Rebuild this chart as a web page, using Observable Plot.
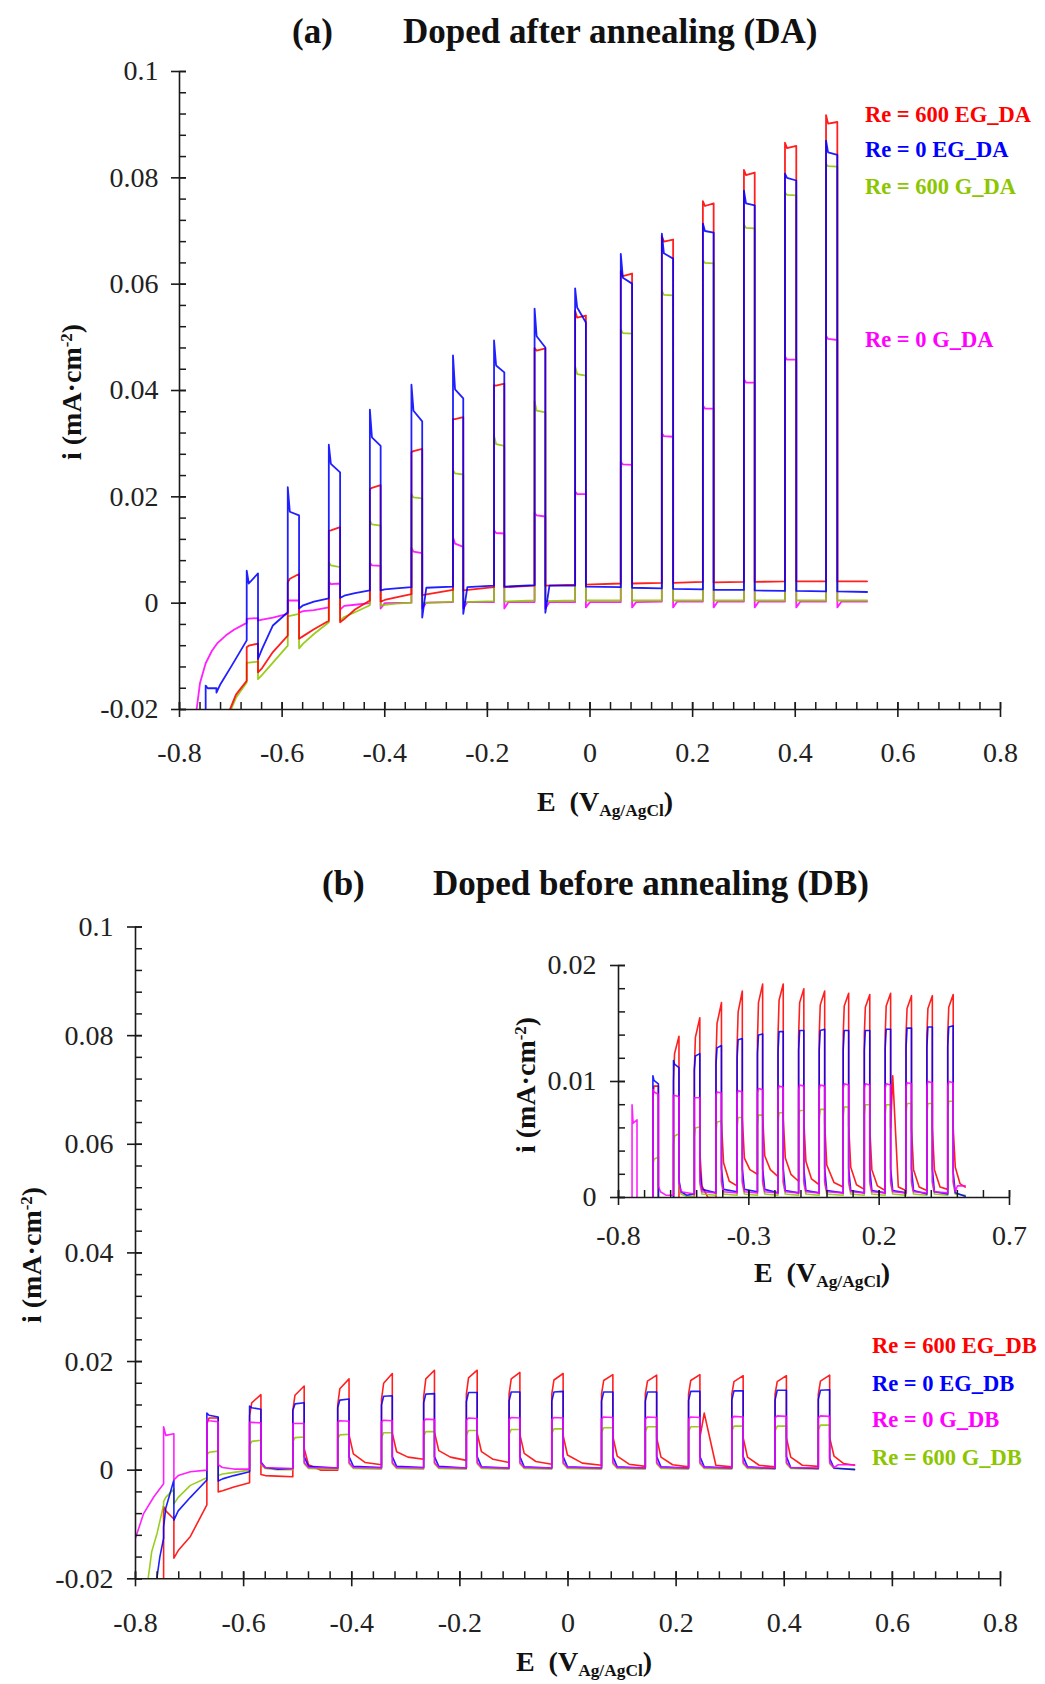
<!DOCTYPE html>
<html><head><meta charset="utf-8">
<script src="https://cdn.jsdelivr.net/npm/d3@7"></script>
<script src="https://cdn.jsdelivr.net/npm/@observablehq/plot@0.6"></script>
<style>
body{margin:0;background:#fff;}
#root{position:relative;width:1045px;height:1684px;overflow:hidden;font-family:"Liberation Serif","Times New Roman",serif;color:#111;}
.t{position:absolute;white-space:nowrap;font-weight:bold;line-height:1;}
.c{transform:translate(-50%,-50%);}
.r{transform:translate(-50%,-50%) rotate(-90deg);}
sup{font-size:0.6em;vertical-align:0.55em;line-height:0;}
sub{font-size:0.62em;vertical-align:-0.3em;line-height:0;}
svg{position:absolute;overflow:visible;}
</style></head><body><div id="root"></div>
<script>
// ---------------- Panel (a): Doped after annealing ----------------
const onA  = [-0.749,-0.669,-0.589,-0.509,-0.429,-0.348,-0.267,-0.187,-0.108,-0.029,0.060,0.140,0.220,0.300,0.380,0.460];
const offA = [-0.728,-0.647,-0.567,-0.487,-0.408,-0.327,-0.247,-0.167,-0.087,-0.008,0.082,0.162,0.241,0.321,0.402,0.482];

// Re = 600 EG_DA (red)
const redA_lead   = [[-0.706,-0.021],[-0.690,-0.0172]];
const redA_dark   = [null,-0.0146,-0.0061,-0.0033,0.0005,0.0017,0.0025,0.0030,0.0033,0.0035,0.0037,0.0038,0.0040,0.0040,0.0041,0.0041];
const redA_jump   = [null,-0.0083,0.0039,0.0136,0.0214,0.0284,0.0346,0.0410,0.0480,0.0550,0.0625,0.0690,0.0756,0.0815,0.0866,0.0918];
const redA_settle = [null,-0.0080,0.0046,0.0137,0.0217,0.0286,0.0346,0.0409,0.0475,0.0537,0.0615,0.0680,0.0747,0.0805,0.0856,0.0902];
const redA_end    = [null,-0.0076,0.0055,0.0143,0.0222,0.0290,0.0350,0.0413,0.0479,0.0541,0.0620,0.0684,0.0752,0.0810,0.0860,0.0905];
const redA_drop   = [null,-0.0130,-0.0067,-0.0036,0.0003,0.0015,0.0024,0.0030,0.0033,0.0035,0.0037,0.0038,0.0039,0.0040,0.0041,0.0041];
const redA_tail   = [null,-0.0122,-0.0062,-0.0030,0.0006];
const redA_mid    = [null,-0.0092,-0.0049,-0.0012,0.0011];
const redA_trail  = [[0.540,0.0041]];

// Re = 0 EG_DA (blue)
const blueA_lead   = [[-0.750,-0.021]];
const blueA_dark   = [-0.0205,-0.0070,-0.0017,0.0009,0.0024,0.0030,0.0031,0.0033,0.0034,0.0033,0.0030,0.0028,0.0026,0.0025,0.0023,0.0022];
const blueA_jump   = [-0.0155,0.0061,0.0218,0.0298,0.0364,0.0411,0.0466,0.0494,0.0554,0.0592,0.0657,0.0695,0.0714,0.0776,0.0808,0.0870];
const blueA_settle = [-0.0160,0.0037,0.0172,0.0262,0.0312,0.0362,0.0402,0.0447,0.0502,0.0556,0.0612,0.0658,0.0700,0.0752,0.0800,0.0848];
const blueA_end    = [-0.0160,0.0056,0.0165,0.0246,0.0296,0.0342,0.0385,0.0434,0.0481,0.0528,0.0601,0.0648,0.0697,0.0748,0.0795,0.0843];
const blueA_drop   = [-0.0168,-0.0105,-0.0010,0.0010,0.0024,-0.0027,-0.0020,0.0031,-0.0018,0.0031,0.0029,0.0027,0.0025,0.0024,0.0023,0.0022];
const blueA_tail   = [-0.0152,-0.0086,-0.0004,0.0014,0.0026,0.0029,0.0030,null,0.0033];
const blueA_mid    = [-0.0118,-0.0042,0.0003,0.0019,0.0028];
const blueA_trail  = [[0.540,0.0021]];

// Re = 600 G_DA (green)
const greenA_lead   = [[-0.704,-0.021],[-0.690,-0.0178]];
const greenA_dark   = [null,-0.0149,-0.0080,-0.0036,-0.0004,0.0001,0.0003,0.0004,0.0005,0.0005,0.0005,0.0005,0.0005,0.0005,0.0005,0.0005];
const greenA_jump   = [null,-0.0112,-0.0025,0.0077,0.0155,0.0205,0.0250,0.0315,0.0380,0.0445,0.0515,0.0588,0.0645,0.0712,0.0772,0.0826];
const greenA_settle = [null,-0.0112,-0.0024,0.0071,0.0148,0.0199,0.0244,0.0299,0.0362,0.0431,0.0508,0.0580,0.0640,0.0706,0.0768,0.0822];
const greenA_end    = [null,-0.0110,-0.0020,0.0068,0.0146,0.0197,0.0242,0.0296,0.0359,0.0428,0.0507,0.0579,0.0639,0.0705,0.0767,0.0821];
const greenA_drop   = [null,-0.0143,-0.0085,-0.0033,-0.0005,0.0000,0.0002,0.0003,0.0004,0.0005,0.0005,0.0005,0.0005,0.0005,0.0005,0.0005];
const greenA_tail   = [null,-0.0135,-0.0076,-0.0026,-0.0003];
const greenA_mid    = [null,-0.0112,-0.0058,-0.0017,-0.0001];
const greenA_trail  = [[0.540,0.0005]];

// Re = 0 G_DA (magenta)
const magA_lead   = [[-0.768,-0.021],[-0.760,-0.0150],[-0.749,-0.0113],[-0.737,-0.0090],[-0.726,-0.0075],[-0.710,-0.0061],[-0.694,-0.0050]];
const magA_dark   = [null,-0.0037,-0.0020,-0.0008,0.0000,0.0001,0.0002,0.0002,0.0002,0.0002,0.0002,0.0003,0.0003,0.0003,0.0003,0.0003];
const magA_jump   = [null,-0.0030,0.0006,0.0040,0.0076,0.0104,0.0124,0.0137,0.0170,0.0210,0.0266,0.0320,0.0372,0.0421,0.0464,0.0503];
const magA_settle = [null,-0.0029,0.0005,0.0036,0.0071,0.0097,0.0112,0.0132,0.0165,0.0205,0.0261,0.0314,0.0366,0.0415,0.0458,0.0497];
const magA_end    = [null,-0.0028,0.0005,0.0037,0.0070,0.0094,0.0106,0.0131,0.0163,0.0205,0.0260,0.0313,0.0366,0.0415,0.0458,0.0495];
const magA_drop   = [null,-0.0033,-0.0018,-0.0012,-0.0010,-0.0010,-0.0010,-0.0010,-0.0010,-0.0008,-0.0008,-0.0008,-0.0008,-0.0008,-0.0008,-0.0008];
const magA_tail   = [null,-0.0031,-0.0015,-0.0005,0.0000,0.0001,0.0002,0.0002,0.0002,0.0002,0.0002,0.0003,0.0003,0.0003,0.0003,0.0003];
const magA_mid    = [null,-0.0027,-0.0013,-0.0003];
const magA_trail  = [[0.540,0.0003]];

// ---------------- Panel (b): Doped before annealing ----------------
const onB  = [-0.748,-0.668,-0.589,-0.509,-0.426,-0.345,-0.267,-0.188,-0.109,-0.030,0.062,0.143,0.223,0.303,0.383,0.463];
const offB = [-0.729,-0.647,-0.568,-0.488,-0.405,-0.325,-0.247,-0.168,-0.089,-0.009,0.083,0.164,0.244,0.324,0.404,0.484];

// Re = 600 EG_DB (red)
const redB_lead   = [[-0.749,-0.022]];
const redB_dark   = [-0.0215,-0.0064,-0.0023,-0.0012,0.0000,0.0010,0.0020,0.0018,0.0014,0.0011,0.0009,0.0007,0.0006,0.0006,0.0006,0.0007];
const redB_jump   = [-0.0067,0.0085,0.0100,0.0110,0.0120,0.0130,0.0135,0.0140,0.0140,0.0140,0.0140,0.0140,0.0140,0.0140,0.0140,0.0140];
const redB_settle = [-0.0075,0.0096,0.0124,0.0138,0.0150,0.0160,0.0168,0.0170,0.0168,0.0166,0.0165,0.0164,0.0165,0.0163,0.0163,0.0164];
const redB_end    = [-0.0090,0.0096,0.0139,0.0155,0.0168,0.0178,0.0184,0.0184,0.0180,0.0178,0.0176,0.0175,0.0176,0.0174,0.0174,0.0175];
const redB_drop   = [-0.0162,-0.0040,-0.0008,0.0040,0.0065,0.0068,0.0070,0.0068,0.0066,0.0064,0.0062,0.0060,0.0060,0.0060,0.0060,0.0060];
const redB_tail   = [-0.0148,-0.0038,-0.0010,0.0010,0.0030,0.0034,0.0036,0.0034,0.0031,0.0028,0.0026,0.0024,0.0105,0.0024,0.0024,0.0026];
const redB_mid    = [-0.0122,-0.0031,-0.0011,0.0000,0.0014,0.0024,0.0024,0.0020,0.0016,0.0013,0.0011,0.0010,0.0009,0.0009,0.0009];
const redB_trail  = [[0.510,0.0012],[0.530,0.0009]];

// Re = 0 EG_DB (blue)
const blueB_lead   = [[-0.762,-0.021],[-0.755,-0.0160]];
const blueB_dark   = [-0.0125,-0.0018,-0.0003,0.0003,0.0004,0.0005,0.0005,0.0004,0.0004,0.0004,0.0004,0.0004,0.0004,0.0004,0.0003,0.0003];
const blueB_jump   = [-0.0105,0.0105,0.0118,0.0110,0.0115,0.0120,0.0124,0.0126,0.0127,0.0127,0.0127,0.0127,0.0128,0.0129,0.0129,0.0130];
const blueB_settle = [-0.0070,0.0101,0.0115,0.0122,0.0129,0.0136,0.0140,0.0143,0.0144,0.0144,0.0144,0.0144,0.0145,0.0146,0.0147,0.0147];
const blueB_end    = [-0.0018,0.0098,0.0112,0.0124,0.0131,0.0137,0.0141,0.0143,0.0144,0.0145,0.0144,0.0144,0.0145,0.0146,0.0147,0.0148];
const blueB_drop   = [-0.0092,-0.0020,0.0015,0.0025,0.0025,0.0025,0.0025,0.0025,0.0025,0.0025,0.0025,0.0025,0.0025,0.0025,0.0025,0.0022];
const blueB_tail   = [-0.0075,-0.0016,0.0005,0.0007,0.0007,0.0007,0.0007,0.0006,0.0006,0.0006,0.0006,0.0006,0.0006,0.0006,0.0005,0.0004];
const blueB_mid    = [-0.0050,-0.0010,0.0002];
const blueB_trail  = [[0.530,0.0001]];

// Re = 600 G_DB (green)
const greenB_lead   = [[-0.778,-0.021],[-0.770,-0.0150],[-0.760,-0.0116]];
const greenB_dark   = [-0.0064,-0.0014,0.0000,0.0001,0.0002,0.0002,0.0002,0.0002,0.0002,0.0002,0.0002,0.0002,0.0002,0.0002,0.0002,0.0002];
const greenB_jump   = [-0.0058,0.0028,0.0045,0.0052,0.0057,0.0060,0.0062,0.0064,0.0066,0.0067,0.0069,0.0071,0.0071,0.0072,0.0072,0.0074];
const greenB_settle = [-0.0050,0.0033,0.0053,0.0060,0.0065,0.0069,0.0071,0.0073,0.0075,0.0076,0.0078,0.0080,0.0080,0.0081,0.0081,0.0083];
const greenB_end    = [-0.0035,0.0035,0.0055,0.0061,0.0066,0.0069,0.0071,0.0073,0.0075,0.0076,0.0078,0.0080,0.0080,0.0081,0.0081,0.0083];
const greenB_drop   = [-0.0062,-0.0010,0.0010,0.0012,0.0012,0.0012,0.0012,0.0012,0.0012,0.0012,0.0012,0.0012,0.0012,0.0012,0.0012,0.0012];
const greenB_tail   = [-0.0050,-0.0007,0.0003,0.0003,0.0003,0.0003,0.0003,0.0003,0.0003,0.0003,0.0003,0.0003,0.0003,0.0003,0.0003,0.0003];
const greenB_mid    = [-0.0028,-0.0004,0.0001];
const greenB_trail  = [[0.530,0.0002]];

// Re = 0 G_DB (magenta)
const magB_lead   = [[-0.800,-0.0125],[-0.785,-0.0080],[-0.766,-0.0049]];
const magB_dark   = [-0.0025,0.0000,0.0002,0.0003,0.0004,0.0004,0.0004,0.0004,0.0004,0.0004,0.0004,0.0004,0.0004,0.0004,0.0004,0.0004];
const magB_jump   = [0.0080,0.0093,0.0088,0.0086,0.0088,0.0089,0.0090,0.0092,0.0093,0.0093,0.0094,0.0094,0.0094,0.0095,0.0096,0.0096];
const magB_settle = [0.0064,0.0091,0.0088,0.0086,0.0091,0.0092,0.0094,0.0096,0.0097,0.0097,0.0098,0.0098,0.0098,0.0099,0.0100,0.0100];
const magB_end    = [0.0067,0.0089,0.0087,0.0086,0.0090,0.0091,0.0093,0.0095,0.0096,0.0096,0.0097,0.0097,0.0097,0.0098,0.0099,0.0099];
const magB_drop   = [-0.0018,0.0010,0.0012,0.0014,0.0014,0.0014,0.0014,0.0014,0.0014,0.0014,0.0014,0.0014,0.0014,0.0014,0.0014,0.0014];
const magB_tail   = [-0.0010,0.0005,0.0005,0.0005,0.0005,0.0005,0.0005,0.0005,0.0005,0.0005,0.0005,0.0005,0.0005,0.0005,0.0005,0.0005];
const magB_mid    = [-0.0003,0.0002];
const magB_trail  = [[0.500,0.0010],[0.530,0.0010]];

// ---------------- Axes ticks & labels ----------------
const xMajor = [-0.8,-0.6,-0.4,-0.2,0,0.2,0.4,0.6,0.8];
const yMajor = [-0.02,0,0.02,0.04,0.06,0.08,0.1];
const xMajorInset = [-0.8,-0.3,0.2,0.7];
const yMajorInset = [0,0.01,0.02];
const legendA = ["Re = 600 EG_DA","Re = 0 EG_DA","Re = 600 G_DA","Re = 0 G_DA"];
const legendB = ["Re = 600 EG_DB","Re = 0 EG_DB","Re = 0 G_DB","Re = 600 G_DB"];
const RED = "#ff0000", BLUE = "#0000ff", GREEN = "#8cc600", MAG = "#ff00ff";

// ---------------- helpers ----------------
const RISE = 0.004, TAIL = 0.008;
function trace(on, off, lead, dark, jump, settle, end, drop, tail, mid, trail) {
  const pts = lead.map(([E, i]) => ({E, i}));
  for (let k = 0; k < on.length; k++) {
    if (jump[k] == null) continue;
    pts.push({E: on[k], i: dark[k]});
    pts.push({E: on[k], i: jump[k]});
    pts.push({E: on[k] + RISE, i: settle[k]});
    pts.push({E: off[k], i: end[k]});
    pts.push({E: off[k], i: drop[k]});
    if (tail[k] != null) pts.push({E: off[k] + TAIL, i: tail[k]});
    if (mid[k] != null && k + 1 < on.length) pts.push({E: (off[k] + on[k + 1]) / 2, i: mid[k]});
  }
  trail.forEach(([E, i]) => pts.push({E, i}));
  return pts;
}
const seriesA = [
  {c: MAG,   p: trace(onA, offA, magA_lead, magA_dark, magA_jump, magA_settle, magA_end, magA_drop, magA_tail, magA_mid, magA_trail)},
  {c: GREEN, p: trace(onA, offA, greenA_lead, greenA_dark, greenA_jump, greenA_settle, greenA_end, greenA_drop, greenA_tail, greenA_mid, greenA_trail)},
  {c: RED,   p: trace(onA, offA, redA_lead, redA_dark, redA_jump, redA_settle, redA_end, redA_drop, redA_tail, redA_mid, redA_trail)},
  {c: BLUE,  p: trace(onA, offA, blueA_lead, blueA_dark, blueA_jump, blueA_settle, blueA_end, blueA_drop, blueA_tail, blueA_mid, blueA_trail)}
];
const seriesB = [
  {c: RED,   p: trace(onB, offB, redB_lead, redB_dark, redB_jump, redB_settle, redB_end, redB_drop, redB_tail, redB_mid, redB_trail)},
  {c: GREEN, p: trace(onB, offB, greenB_lead, greenB_dark, greenB_jump, greenB_settle, greenB_end, greenB_drop, greenB_tail, greenB_mid, greenB_trail)},
  {c: BLUE,  p: trace(onB, offB, blueB_lead, blueB_dark, blueB_jump, blueB_settle, blueB_end, blueB_drop, blueB_tail, blueB_mid, blueB_trail)},
  {c: MAG,   p: trace(onB, offB, magB_lead, magB_dark, magB_jump, magB_settle, magB_end, magB_drop, magB_tail, magB_mid, magB_trail)}
];

const fmt = d => { const v = Math.round(d * 1000) / 1000; return v === 0 ? "0" : String(v); };
const AX = "#1a1a1a";
function panel(o) {
  const fw = o.width - o.ml - o.mr, fh = o.height - o.mt - o.mb;
  const svg = Plot.plot({
    width: o.width, height: o.height,
    marginTop: o.mt, marginBottom: o.mb, marginLeft: o.ml, marginRight: o.mr,
    x: {domain: o.xDom}, y: {domain: o.yDom},
    style: {fontFamily: '"Liberation Serif","Times New Roman",serif', fontSize: "28px", color: "#222", background: "transparent", overflow: "visible"},
    marks: [
      ...o.series.map(s => Plot.line(s.p, {x: "E", y: "i", stroke: s.c, strokeWidth: o.sw, strokeOpacity: 0.88, clip: true})),
      Plot.ruleY([o.yDom[0]], {stroke: AX, strokeWidth: 1.6}),
      Plot.ruleX([o.xDom[0]], {stroke: AX, strokeWidth: 1.6}),
      Plot.tickX(o.xMin, {x: d => d, insetTop: fh - 7, stroke: AX, strokeWidth: 1.5}),
      Plot.tickX(o.xMaj, {x: d => d, insetTop: fh - 7, insetBottom: -8, stroke: AX, strokeWidth: 1.6}),
      Plot.tickY(o.yMin, {y: d => d, insetRight: fw - 7, stroke: AX, strokeWidth: 1.5}),
      Plot.tickY(o.yMaj, {y: d => d, insetRight: fw - 7, insetLeft: -8, stroke: AX, strokeWidth: 1.6}),
      Plot.axisX({ticks: o.xMaj, tickSize: 0, tickPadding: o.xPad, tickFormat: fmt, label: null}),
      Plot.axisY({ticks: o.yMaj, tickSize: 0, tickPadding: o.yPad, tickFormat: fmt, label: null})
    ]
  });
  svg.style.left = o.left + "px";
  svg.style.top = o.top + "px";
  return svg;
}

const root = document.getElementById("root");
root.appendChild(panel({
  left: 0, top: 0, width: 1045, height: 790, mt: 71, mb: 81, ml: 179, mr: 45,
  xDom: [-0.8, 0.8], yDom: [-0.02, 0.1],
  xMaj: xMajor, xMin: d3.range(-0.8, 0.8001, 0.04), yMaj: yMajor, yMin: d3.range(-0.02, 0.1001, 0.004),
  series: seriesA, sw: 1.8, xPad: 33, yPad: 21
}));
root.appendChild(panel({
  left: 0, top: 860, width: 1045, height: 824, mt: 66.5, mb: 105.7, ml: 135, mr: 45,
  xDom: [-0.8, 0.8], yDom: [-0.02, 0.1],
  xMaj: xMajor, xMin: d3.range(-0.8, 0.8001, 0.04), yMaj: yMajor, yMin: d3.range(-0.02, 0.1001, 0.004),
  series: seriesB, sw: 1.6, xPad: 33, yPad: 22
}));
root.appendChild(panel({
  left: 480, top: 930, width: 560, height: 370, mt: 35, mb: 103, ml: 138, mr: 31,
  xDom: [-0.8, 0.7], yDom: [0, 0.02],
  xMaj: xMajorInset, xMin: d3.range(-0.8, 0.7001, 0.1), yMaj: yMajorInset, yMin: d3.range(0, 0.0201, 0.002),
  series: seriesB, sw: 1.6, xPad: 28, yPad: 22
}));

// ---------------- HTML text: titles, legends, axis labels ----------------
function txt(html, style, cls = "") {
  const d = document.createElement("div");
  d.className = "t " + cls;
  d.innerHTML = html;
  d.setAttribute("style", style);
  root.appendChild(d);
}
txt("(a)", "left:292px;top:14px;font-size:35px;");
txt("Doped after annealing (DA)", "left:403px;top:14px;font-size:35px;");
txt("(b)", "left:322px;top:866px;font-size:35px;");
txt("Doped before annealing (DB)", "left:433px;top:866px;font-size:35px;");

const legACol = [RED, BLUE, GREEN, MAG], legATop = [104, 139, 176, 329];
legendA.forEach((s, k) => txt(s, `left:865px;top:${legATop[k]}px;font-size:22.5px;color:${legACol[k]};`));
const legBCol = [RED, BLUE, MAG, GREEN], legBTop = [1335, 1373, 1409, 1447];
legendB.forEach((s, k) => txt(s, `left:872px;top:${legBTop[k]}px;font-size:22.5px;color:${legBCol[k]};`));

const xl = "E&nbsp;&nbsp;(V<sub>Ag/AgCl</sub>)";
const yl = "i (mA·cm<sup>-2</sup>)";
txt(xl, "left:605px;top:802px;font-size:28px;", "c");
txt(xl, "left:584px;top:1662px;font-size:28px;", "c");
txt(xl, "left:822px;top:1273px;font-size:28px;", "c");
txt(yl, "left:72px;top:392px;font-size:28px;", "r");
txt(yl, "left:32px;top:1255px;font-size:28px;", "r");
txt(yl, "left:526px;top:1085px;font-size:28px;", "r");
</script></body></html>
